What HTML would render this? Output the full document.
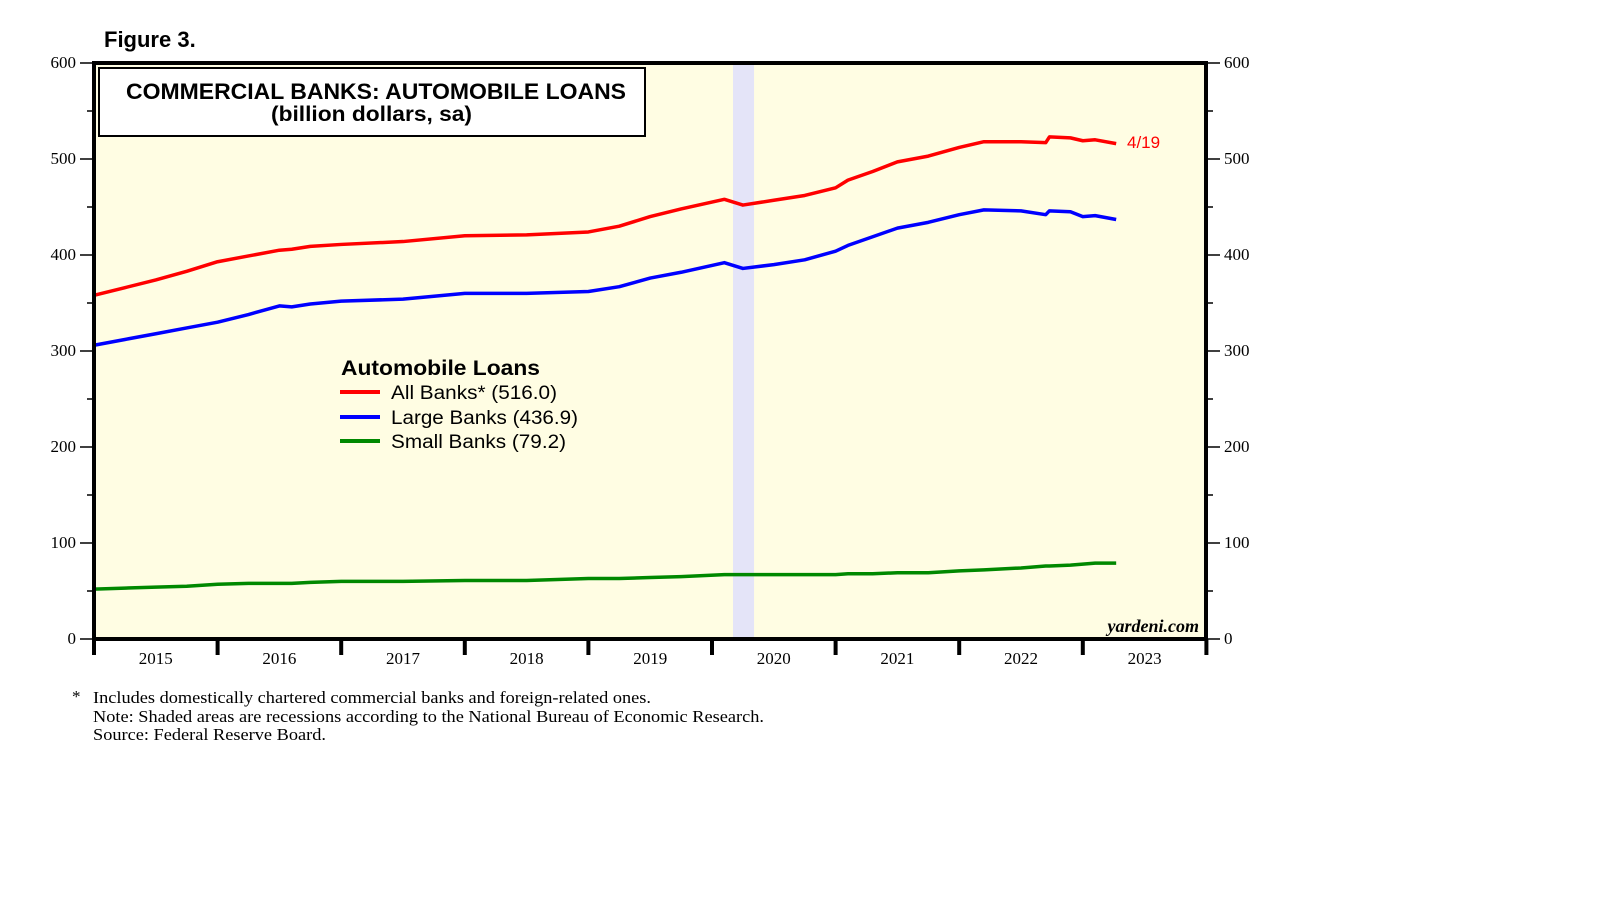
<!DOCTYPE html>
<html><head><meta charset="utf-8"><style>body{margin:0;background:#fff}svg{display:block}</style></head>
<body>
<svg id="chart" width="1610" height="910" viewBox="0 0 1610 910" xmlns="http://www.w3.org/2000/svg">
<text x="104" y="47" font-family="Liberation Sans, sans-serif" font-weight="bold" font-size="22">Figure 3.</text>
<rect x="94" y="63" width="1112" height="576" fill="#fffde3"/>
<g id="recess"></g>
<g id="series"></g>
<rect x="94" y="63" width="1112" height="576" fill="none" stroke="#000" stroke-width="4"/>
<g id="axes" font-family="Liberation Serif, serif" font-size="17"></g>
<rect x="99" y="68" width="546" height="68" fill="#fff" stroke="#000" stroke-width="2"/>
<text x="126" y="99" textLength="500" lengthAdjust="spacingAndGlyphs" font-family="Liberation Sans, sans-serif" font-weight="bold" font-size="22">COMMERCIAL BANKS: AUTOMOBILE LOANS</text>
<text x="271" y="121" textLength="201" lengthAdjust="spacingAndGlyphs" font-family="Liberation Sans, sans-serif" font-weight="bold" font-size="21">(billion dollars, sa)</text>
<text x="1127" y="148" fill="#f00" font-family="Liberation Sans, sans-serif" font-size="17">4/19</text>
<g font-family="Liberation Sans, sans-serif">
<text x="341" y="375" textLength="199" lengthAdjust="spacingAndGlyphs" font-weight="bold" font-size="21">Automobile Loans</text>
<line x1="340" y1="392" x2="380" y2="392" stroke="#f00" stroke-width="4"/>
<text x="391" y="399" textLength="166" lengthAdjust="spacingAndGlyphs" font-size="19">All Banks* (516.0)</text>
<line x1="340" y1="417" x2="380" y2="417" stroke="#00f" stroke-width="4"/>
<text x="391" y="424" textLength="187" lengthAdjust="spacingAndGlyphs" font-size="19">Large Banks (436.9)</text>
<line x1="340" y1="441" x2="380" y2="441" stroke="#080" stroke-width="4"/>
<text x="391" y="448" textLength="175" lengthAdjust="spacingAndGlyphs" font-size="19">Small Banks (79.2)</text>
</g>
<text x="1199" y="632" text-anchor="end" font-family="Liberation Serif, serif" font-style="italic" font-weight="bold" font-size="18">yardeni.com</text>
<g font-family="Liberation Serif, serif" font-size="17">
<text x="72" y="702">*</text>
<text x="93" y="703" textLength="558" lengthAdjust="spacingAndGlyphs">Includes domestically chartered commercial banks and foreign-related ones.</text>
<text x="93" y="722" textLength="671" lengthAdjust="spacingAndGlyphs">Note: Shaded areas are recessions according to the National Bureau of Economic Research.</text>
<text x="93" y="740" textLength="233" lengthAdjust="spacingAndGlyphs">Source: Federal Reserve Board.</text>
</g>
</svg>
<script>
const years=[2015,2016,2017,2018,2019,2020,2021,2022,2023];
const yTicks=[0,100,200,300,400,500,600];
const recession=[2020.17,2020.34];
const tAll=[2015,2015.25,2015.5,2015.75,2016,2016.25,2016.5,2016.6,2016.75,2017,2017.5,2018,2018.5,2019,2019.25,2019.5,2019.75,2020.1,2020.25,2020.5,2020.75,2021,2021.1,2021.3,2021.5,2021.75,2022,2022.2,2022.5,2022.7,2022.73,2022.9,2023,2023.1,2023.27];
const allBanks=[358,366,374,383,393,399,405,406,409,411,414,420,421,424,430,440,448,458,452,457,462,470,478,487,497,503,512,518,518,517,523,522,519,520,516];
const largeBanks=[306,312,318,324,330,338,347,346,349,352,354,360,360,362,367,376,382,392,386,390,395,404,410,419,428,434,442,447,446,442,446,445,440,441,437];
const smallBanks=[52,53,54,55,57,58,58,58,59,60,60,61,61,63,63,64,65,67,67,67,67,67,68,68,69,69,71,72,74,76,76,77,78,79,79];
const NS='http://www.w3.org/2000/svg';
const X=t=>94+(t-2015)*123.6, Y=v=>639-v*0.96;
function mk(tag,attrs,parent){const e=document.createElementNS(NS,tag);for(const k in attrs)e.setAttribute(k,attrs[k]);parent.appendChild(e);return e;}
const rg=document.getElementById('recess');
const r=mk('rect',{x:X(recession[0]),y:65,width:X(recession[1])-X(recession[0]),height:572,fill:'#e4e4f8'},rg);


const sg=document.getElementById('series');
[[allBanks,'#f00','line-all-banks'],[largeBanks,'#00f','line-large-banks'],[smallBanks,'#080','line-small-banks']].forEach(([d,c,n])=>{
 const p=mk('polyline',{points:d.map((v,i)=>X(tAll[i])+','+Y(v)).join(' '),fill:'none',stroke:c,'stroke-width':3.5,'stroke-linejoin':'round'},sg);
 
 
});
const ax=document.getElementById('axes');
yTicks.forEach(v=>{
 const l=mk('text',{x:76,y:Y(v)+5,'text-anchor':'end'},ax);l.textContent=v;
 
 
 const r2=mk('text',{x:1224,y:Y(v)+5},ax);r2.textContent=v;
 
 
 mk('line',{x1:80,x2:94,y1:Y(v),y2:Y(v),stroke:'#000','stroke-width':1.5},ax);
 mk('line',{x1:1206,x2:1220,y1:Y(v),y2:Y(v),stroke:'#000','stroke-width':1.5},ax);
 if(v<600){mk('line',{x1:87,x2:94,y1:Y(v+50),y2:Y(v+50),stroke:'#000','stroke-width':1.5},ax);
 mk('line',{x1:1206,x2:1213,y1:Y(v+50),y2:Y(v+50),stroke:'#000','stroke-width':1.5},ax);}
});
years.concat([2024]).forEach(y=>mk('line',{x1:X(y),x2:X(y),y1:639,y2:655,stroke:'#000','stroke-width':4},ax));
years.forEach(y=>{
 const t=mk('text',{x:X(y+0.5),y:664,'text-anchor':'middle'},ax);t.textContent=y;
 
 
});
</script>
</body></html>
